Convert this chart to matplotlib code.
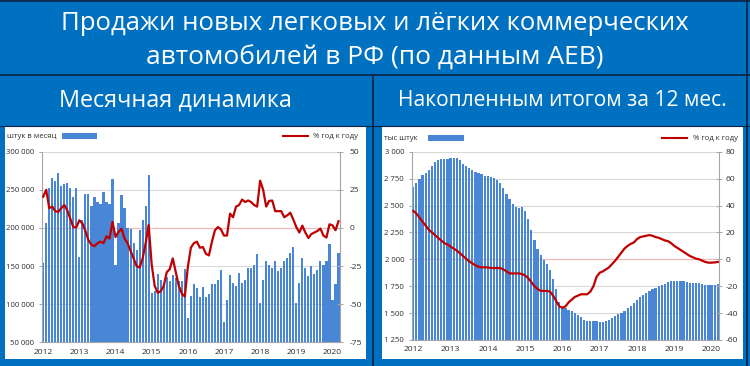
import matplotlib
matplotlib.use('Agg')
import matplotlib.pyplot as plt
import numpy as np
from matplotlib.patches import Rectangle
from matplotlib.lines import Line2D
from matplotlib.ticker import FuncFormatter

plt.rcParams['font.family'] = ['Open Sans', 'DejaVu Sans']

# ---------------- data ----------------
years = ['2012', '2013', '2014', '2015', '2016', '2017', '2018', '2019', '2020']

# monthly sales, units (Jan 2012 .. Mar 2020)
monthly_sales = [
    154000, 207000, 252000, 266000, 261000, 272000, 255000, 258000, 259000, 253000, 240000, 253000,
    162000, 210000, 244000, 245000, 229000, 241000, 234000, 231000, 247000, 234000, 232000, 264000,
    152000, 206000, 243000, 226000, 200000, 199000, 180000, 171000, 197000, 211000, 229000, 270000,
    115000, 117000, 140000, 132000, 124000, 135000, 130000, 138000, 134000, 130000, 131000, 146000,
    82000, 111000, 126000, 121000, 109000, 123000, 109000, 114000, 126000, 126000, 132000, 145000,
    77000, 106000, 138000, 128000, 124000, 141000, 128000, 132000, 148000, 148000, 152000, 166000,
    102000, 132000, 157000, 152000, 148000, 156000, 143000, 148000, 157000, 161000, 167000, 175000,
    102000, 128000, 160000, 148000, 137000, 150000, 140000, 145000, 157000, 151000, 156000, 179000,
    105000, 126000, 167000,
]
# monthly year-on-year change, %
monthly_yoy = [
    20.5, 25, 13, 14, 11, 10.5, 13, 15, 11.5, 6, 0.5, 0.5,
    5, 3, -2, -8, -11, -12, -10, -9, -10, -5.5, -7, 4,
    -6, -2.6, -0.5, -7, -10, -15, -20, -25, -26, -20, -10, 2,
    -24, -38, -42.5, -41.5, -38, -29, -27, -20, -29, -38, -43, -45,
    -25.6, -13, -10, -9, -13, -12.5, -17, -18, -9, -1.5, 0.6, -1,
    -5, -5, 9.4, 7, 14, 15, 18.6, 17, 18, 17, 15, 14,
    31, 25, 14, 17.7, 18, 11, 11, 11, 7, 8.3, 10, 5.5,
    0.6, -3, 1.5, -3, -6.6, -4, -3, -2, -0.4, -5, -6.3, 2.4,
    1.7, -1.5, 4.4,
]
# rolling 12-month sales, thousand units
rolling_sales = [
    2675, 2710, 2745, 2780, 2800, 2830, 2870, 2900, 2920, 2930, 2935, 2935,
    2945, 2945, 2940, 2920, 2890, 2865, 2845, 2830, 2815, 2800, 2790, 2777,
    2770, 2765, 2760, 2740, 2710, 2660, 2610, 2560, 2510, 2485, 2480, 2490,
    2450, 2370, 2270, 2180, 2100, 2040, 1990, 1960, 1900, 1820, 1720, 1600,
    1560, 1545, 1530, 1520, 1500, 1480, 1460, 1440, 1425, 1425, 1425, 1425,
    1420, 1420, 1430, 1440, 1455, 1475, 1490, 1505, 1520, 1545, 1570, 1595,
    1620, 1645, 1665, 1685, 1705, 1720, 1735, 1750, 1760, 1775, 1790, 1800,
    1800, 1798, 1800, 1795, 1788, 1782, 1780, 1778, 1778, 1770, 1763, 1760,
    1763, 1763, 1767,
]
# rolling 12-month year-on-year change, %
rolling_yoy = [
    36, 34, 31, 28, 25, 22, 20, 18, 16, 14, 12, 11,
    9.5, 8, 6.5, 4.5, 2.5, 0.5, -1.5, -3, -4.5, -5.5, -6, -6,
    -6, -6.5, -6.5, -6.5, -6.5, -7.5, -9, -10.5, -10.5, -10.5, -10.5, -11,
    -12, -14, -17, -20, -22, -23.5, -23.5, -23.5, -24, -27, -31, -35,
    -36, -35, -32, -30, -28, -27, -26, -26, -26, -24, -20, -13,
    -10, -9, -7.5, -6, -3.5, -1, 2, 5, 8, 10, 11.5, 12.5,
    15, 16.5, 17, 17.5, 18, 17.5, 16.5, 16, 15, 14, 13.5, 12,
    10, 8.5, 7, 5.5, 4, 2.5, 1.5, 0.5, 0, -1, -2, -2.5,
    -2.5, -2.3, -2,
]

title_lines = ['Продажи новых легковых и лёгких коммерческих',
               'автомобилей в РФ (по данным АЕВ)']
sub_left = 'Месячная динамика'
sub_right = 'Накопленным итогом за 12 мес.'
unit_left = 'штук в месяц'
unit_right = 'тыс штук'
yoy_label = '% год к году'

# ---------------- style ----------------
BLUE = '#0070C0'
DARK = '#0E2341'
BAR = '#4A86D6'
RED = '#C00000'
GRID = '#D9D9D9'
ZERO = '#F0BDBD'
SPINE = '#A6A6A6'
TXT = '#303030'
FS_X = 6.1
FS_Y = 5.6
FS_LEG = 5.6

W, H = 750, 366
fig = plt.figure(figsize=(7.5, 3.66), dpi=100)
fig.patch.set_facecolor(BLUE)


def fx(x):
    return x / W


def fy(y):
    return 1 - y / H


def hline(y, x0, x1, lw=1.2, color=DARK):
    fig.add_artist(Line2D([fx(x0), fx(x1)], [fy(y), fy(y)], transform=fig.transFigure,
                          color=color, lw=lw, zorder=5))


def vline(x, y0, y1, lw=1.2, color=DARK):
    fig.add_artist(Line2D([fx(x), fx(x)], [fy(y0), fy(y1)], transform=fig.transFigure,
                          color=color, lw=lw, zorder=5))


# white panels
for x0, x1 in [(5, 366), (382, 743)]:
    fig.add_artist(Rectangle((fx(x0), fy(359)), (x1 - x0) / W, (359 - 127) / H,
                             transform=fig.transFigure, facecolor='white', edgecolor='none', zorder=-1))

hline(0.6, 0, 750)
hline(74.5, 0, 750)
hline(126.3, 0, 750, lw=0.8)
vline(373.3, 74.5, 366)
vline(747, 0, 366)

renderer = fig.canvas.get_renderer()


def fit_text(x, y, s, width, fs0=20, **kw):
    t = fig.text(fx(x), fy(y), s, ha='center', va='center', color='white', fontsize=fs0, **kw)
    w = t.get_window_extent(renderer).width
    t.set_fontsize(fs0 * width / w)
    return t


fit_text(375, 24, title_lines[0], 628)
fit_text(375, 58, title_lines[1], 458)
fit_text(175, 101, sub_left, 232)
fit_text(562, 101, sub_right, 328)


def thousands(v, pos=None):
    return f'{int(round(v)):,}'.replace(',', ' ')


def make_panel(rect, bars, yoy, ylim, ystep, rlim, rstep, rpad):
    n = len(bars)
    x = np.arange(n)
    ax = fig.add_axes(rect)
    ax.set_facecolor('white')
    ax.bar(x, bars, width=0.72, color=BAR, zorder=2)
    ax.set_xlim(-0.5, n - 0.5)
    ax.set_ylim(*ylim)
    ax.set_yticks(np.arange(ylim[0], ylim[1] + ystep / 2, ystep))
    ax.yaxis.set_major_formatter(FuncFormatter(thousands))
    ax.set_axisbelow(True)
    ax.yaxis.grid(True, color=GRID, lw=0.8, zorder=0)
    # zero line of the secondary axis, drawn behind bars
    z = ylim[0] + (0 - rlim[0]) / (rlim[1] - rlim[0]) * (ylim[1] - ylim[0])
    ax.axhline(z, color=ZERO, lw=0.9, zorder=1)
    ax.set_xticks(x[::12])
    ax.set_xticklabels(years[:len(x[::12])])
    ax.tick_params(axis='x', length=0, pad=4.5, labelsize=FS_X, labelcolor=TXT)
    ax.tick_params(axis='y', length=2.5, width=0.7, color=SPINE, pad=3, labelsize=FS_Y, labelcolor=TXT)
    for s in ['top', 'right']:
        ax.spines[s].set_visible(False)
    for s in ['left', 'bottom']:
        ax.spines[s].set_color(SPINE)
        ax.spines[s].set_linewidth(0.8)

    axr = ax.twinx()
    axr.plot(x, yoy, color=RED, lw=1.6, zorder=3, solid_joinstyle='round')
    axr.set_ylim(*rlim)
    axr.set_yticks(np.arange(rlim[0], rlim[1] + rstep / 2, rstep))
    axr.yaxis.set_major_formatter(FuncFormatter(lambda v, p: f'{int(round(v))}'))
    axr.tick_params(axis='y', direction='inout', length=4, width=0.7, color=SPINE,
                    pad=rpad, labelsize=FS_X, labelcolor=TXT)
    for s in ['top', 'left', 'bottom']:
        axr.spines[s].set_visible(False)
    axr.spines['right'].set_color(SPINE)
    axr.spines['right'].set_linewidth(0.8)
    return ax, axr


make_panel([fx(41.7), fy(342.3), (340 - 41.7) / W, (342.3 - 151.7) / H],
           monthly_sales, monthly_yoy, (50000, 300000), 50000, (-75, 50), 25, 5)
make_panel([fx(411.7), fy(340), (719.3 - 411.7) / W, (340 - 151.7) / H],
           rolling_sales, rolling_yoy, (1250, 3000), 250, (-60, 80), 20, 2.5)


# legends (drawn as figure decorations)
def legend(unit_text, ux, uy, patch_x0, patch_x1, line_x0, line_x1, lab_x):
    fig.text(fx(ux), fy(uy), unit_text, ha='left', va='center', fontsize=FS_LEG, color=TXT)
    fig.add_artist(Rectangle((fx(patch_x0), fy(uy + 3)), (patch_x1 - patch_x0) / W, 6 / H,
                             transform=fig.transFigure, facecolor=BAR, edgecolor='none', zorder=6))
    fig.add_artist(Line2D([fx(line_x0), fx(line_x1)], [fy(uy), fy(uy)], transform=fig.transFigure,
                          color=RED, lw=1.5, zorder=6))
    fig.text(fx(lab_x), fy(uy), yoy_label, ha='left', va='center', fontsize=FS_LEG, color=TXT)


legend(unit_left, 7, 136, 62, 97, 283, 308, 313)
legend(unit_right, 384, 138, 428, 464, 662, 687, 693)

fig.savefig('out.png', dpi=100, facecolor=fig.get_facecolor())
